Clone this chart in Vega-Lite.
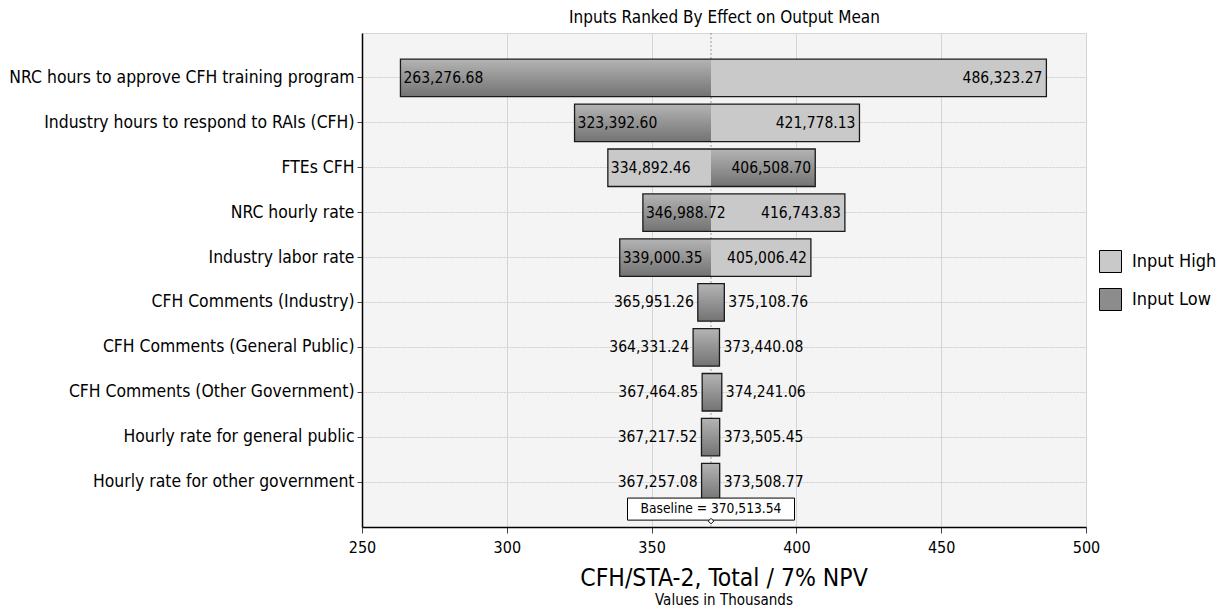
{
  "$schema": "https://vega.github.io/schema/vega-lite/v6.json",
  "width": 724,
  "height": 494,
  "autosize": {"type": "none"},
  "padding": {"left": 362, "top": 33, "right": 138, "bottom": 83},
  "background": "white",
  "title": {
    "text": "CFH/STA-2, Total / 7% NPV",
    "subtitle": "Values in Thousands",
    "orient": "bottom",
    "anchor": "middle",
    "fontSize": 24.5,
    "fontWeight": "normal",
    "color": "black",
    "subtitleFontSize": 15,
    "subtitleColor": "black",
    "subtitlePadding": 1,
    "offset": 12
  },
  "datasets": {
    "inputs": [
      {"input": "NRC hours to approve CFH training program", "case": "Input Low", "value": 263276.68},
      {"input": "NRC hours to approve CFH training program", "case": "Input High", "value": 486323.27},
      {"input": "Industry hours to respond to RAIs (CFH)", "case": "Input Low", "value": 323392.60},
      {"input": "Industry hours to respond to RAIs (CFH)", "case": "Input High", "value": 421778.13},
      {"input": "FTEs CFH", "case": "Input High", "value": 334892.46},
      {"input": "FTEs CFH", "case": "Input Low", "value": 406508.70},
      {"input": "NRC hourly rate", "case": "Input Low", "value": 346988.72},
      {"input": "NRC hourly rate", "case": "Input High", "value": 416743.83},
      {"input": "Industry labor rate", "case": "Input Low", "value": 339000.35},
      {"input": "Industry labor rate", "case": "Input High", "value": 405006.42},
      {"input": "CFH Comments (Industry)", "case": "Input Low", "value": 365951.26},
      {"input": "CFH Comments (Industry)", "case": "Input High", "value": 375108.76},
      {"input": "CFH Comments (General Public)", "case": "Input Low", "value": 364331.24},
      {"input": "CFH Comments (General Public)", "case": "Input High", "value": 373440.08},
      {"input": "CFH Comments (Other Government)", "case": "Input Low", "value": 367464.85},
      {"input": "CFH Comments (Other Government)", "case": "Input High", "value": 374241.06},
      {"input": "Hourly rate for general public", "case": "Input Low", "value": 367217.52},
      {"input": "Hourly rate for general public", "case": "Input High", "value": 373505.45},
      {"input": "Hourly rate for other government", "case": "Input Low", "value": 367257.08},
      {"input": "Hourly rate for other government", "case": "Input High", "value": 373508.77}
    ],
    "baseline": [
      {"baseline": 370513.54, "label": "Baseline = 370,513.54", "input": "Hourly rate for other government"}
    ]
  },
  "data": {"name": "inputs"},
  "encoding": {
    "y": {
      "field": "input",
      "type": "nominal",
      "sort": null,
      "scale": {"paddingInner": 0.165, "paddingOuter": 0.5825},
      "axis": {
        "title": null,
        "labelFontSize": 17.4,
        "labelColor": "black",
        "labelLimit": 400,
        "labelPadding": 3,
        "tickSize": 5,
        "tickColor": "#444",
        "domainColor": "black",
        "domainWidth": 1.5,
        "grid": true,
        "gridColor": "#cfcfcf",
        "gridDash": [2, 1],
        "bandPosition": 0.5
      }
    }
  },
  "layer": [
    {
      "mark": {"type": "rule", "color": "#9a9a9a", "strokeDash": [2, 2], "strokeWidth": 1},
      "data": {"name": "baseline"},
      "encoding": {
        "y": null,
        "x": {
          "field": "baseline",
          "type": "quantitative",
          "axis": {
            "orient": "top",
            "title": "Inputs Ranked By Effect on Output Mean",
            "titleFontSize": 17,
            "titleFontWeight": "normal",
            "titleColor": "black",
            "titlePadding": 7,
            "labels": false,
            "ticks": false,
            "domain": false,
            "grid": false
          }
        }
      }
    },
    {
      "transform": [{"filter": "datum.case == 'Input High' && abs(datum.value - 370513.54) > 15000"}],
      "mark": {"type": "bar", "opacity": 1},
      "encoding": {
        "x": {
          "field": "value",
          "type": "quantitative",
          "scale": {"domain": [250000, 500000], "nice": false, "zero": false},
          "axis": {
            "orient": "bottom",
            "title": null,
            "values": [250000, 300000, 350000, 400000, 450000, 500000],
            "labelExpr": "format(datum.value / 1000, 'd')",
            "labelFlush": false,
            "labelFontSize": 16,
            "labelColor": "black",
            "labelPadding": 6,
            "tickSize": 6,
            "tickColor": "#444",
            "domainColor": "black",
            "domainWidth": 1.5,
            "grid": true,
            "gridColor": "#d4d4d4"
          }
        },
        "x2": {"datum": 370513.54},
        "color": {
          "field": "case",
          "type": "nominal",
          "scale": {"domain": ["Input High", "Input Low"], "range": ["#c9c9c9", "#8c8c8c"]},
          "legend": {
            "orient": "none",
            "legendX": 737,
            "legendY": 217,
            "title": null,
            "symbolType": "square",
            "symbolSize": 484,
            "symbolStrokeColor": "black",
            "symbolStrokeWidth": 1,
            "symbolOpacity": 1,
            "labelFontSize": 18,
            "labelColor": "black",
            "labelOffset": 10,
            "rowPadding": 11
          }
        }
      }
    },
    {
      "transform": [{"filter": "!(datum.case == 'Input High' && abs(datum.value - 370513.54) > 15000)"}],
      "mark": {
        "type": "bar",
        "opacity": 1,
        "color": {
          "gradient": "linear",
          "x1": 0, "y1": 0, "x2": 0, "y2": 1,
          "stops": [
            {"offset": 0, "color": "#b4b4b4"},
            {"offset": 1, "color": "#737373"}
          ]
        }
      },
      "encoding": {
        "x": {"field": "value", "type": "quantitative", "axis": null},
        "x2": {"datum": 370513.54}
      }
    },
    {
      "transform": [
        {"aggregate": [{"op": "min", "field": "value", "as": "lo"}, {"op": "max", "field": "value", "as": "hi"}], "groupby": ["input"]}
      ],
      "mark": {"type": "bar", "fill": null, "fillOpacity": 0, "stroke": "#1a1a1a", "strokeWidth": 1.3},
      "encoding": {
        "x": {"field": "lo", "type": "quantitative", "axis": null},
        "x2": {"field": "hi"}
      }
    },
    {
      "transform": [{"filter": "datum.value < 370513.54 && 370513.54 - datum.value > 15000"}],
      "mark": {"type": "text", "align": "left", "dx": 3, "fontSize": 15.5, "color": "black", "baseline": "middle"},
      "encoding": {
        "x": {"field": "value", "type": "quantitative", "axis": null},
        "text": {"field": "value", "type": "quantitative", "format": ",.2f"}
      }
    },
    {
      "transform": [{"filter": "datum.value > 370513.54 && datum.value - 370513.54 > 15000"}],
      "mark": {"type": "text", "align": "right", "dx": -4, "fontSize": 15.5, "color": "black", "baseline": "middle"},
      "encoding": {
        "x": {"field": "value", "type": "quantitative", "axis": null},
        "text": {"field": "value", "type": "quantitative", "format": ",.2f"}
      }
    },
    {
      "transform": [{"filter": "datum.value < 370513.54 && 370513.54 - datum.value <= 15000"}],
      "mark": {"type": "text", "align": "right", "dx": -4, "fontSize": 15.5, "color": "black", "baseline": "middle"},
      "encoding": {
        "x": {"field": "value", "type": "quantitative", "axis": null},
        "text": {"field": "value", "type": "quantitative", "format": ",.2f"}
      }
    },
    {
      "transform": [{"filter": "datum.value > 370513.54 && datum.value - 370513.54 <= 15000"}],
      "mark": {"type": "text", "align": "left", "dx": 4, "fontSize": 15.5, "color": "black", "baseline": "middle"},
      "encoding": {
        "x": {"field": "value", "type": "quantitative", "axis": null},
        "text": {"field": "value", "type": "quantitative", "format": ",.2f"}
      }
    },
    {
      "data": {"name": "baseline"},
      "mark": {
        "type": "point",
        "shape": "M-1,-0.132L1,-0.132L1,0.132L-1,0.132Z",
        "size": 27889,
        "filled": true,
        "fill": "white",
        "stroke": "black",
        "strokeWidth": 1,
        "opacity": 1,
        "yOffset": 27
      },
      "encoding": {
        "x": {"field": "baseline", "type": "quantitative", "axis": null}
      }
    },
    {
      "data": {"name": "baseline"},
      "mark": {"type": "point", "shape": "diamond", "size": 30, "filled": true, "fill": "white", "stroke": "black", "strokeWidth": 1, "opacity": 1, "yOffset": 39},
      "encoding": {
        "x": {"field": "baseline", "type": "quantitative", "axis": null}
      }
    },
    {
      "data": {"name": "baseline"},
      "mark": {"type": "text", "fontSize": 13.7, "color": "black", "baseline": "middle", "align": "center", "yOffset": 27},
      "encoding": {
        "x": {"field": "baseline", "type": "quantitative", "axis": null},
        "text": {"field": "label"}
      }
    }
  ],
  "resolve": {"axis": {"x": "independent"}},
  "config": {
    "font": "DejaVu Sans Condensed, DejaVu Sans",
    "view": {"fill": "#f4f4f4", "stroke": "#d6d6d6"},
    "axis": {"labelFont": "DejaVu Sans Condensed, DejaVu Sans", "titleFont": "DejaVu Sans Condensed, DejaVu Sans"},
    "legend": {"labelFont": "DejaVu Sans Condensed, DejaVu Sans"}
  }
}
